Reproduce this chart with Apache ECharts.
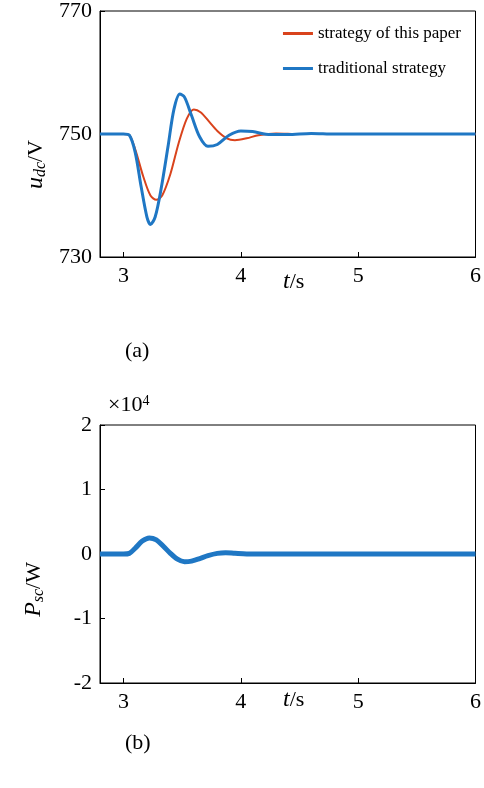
<!DOCTYPE html>
<html><head><meta charset="utf-8">
<script src="https://cdn.jsdelivr.net/npm/echarts@6/dist/echarts.min.js"></script>
<style>body{margin:0;background:#fff}#main{width:484px;height:788px}</style>
</head><body><div id="main"></div>
<script>
var chart = echarts.init(document.getElementById('main'));

var xTicks = [3, 4, 5, 6];
var tradT = [2.8, 3.0, 3.05, 3.1, 3.15, 3.2, 3.23, 3.27, 3.32, 3.38, 3.43, 3.48, 3.52, 3.58, 3.65, 3.72, 3.8, 3.9, 4.0, 4.1, 4.25, 4.4, 4.6, 4.8, 5.0, 6.0];
var tradU = [750, 750, 749.8, 747, 741.5, 736.5, 735.3, 736.5, 741, 748, 754, 756.5, 756, 753, 749.5, 748, 748.3, 749.8, 750.5, 750.4, 749.9, 749.9, 750.1, 750, 750, 750];
var paperT = [2.8, 3.0, 3.05, 3.1, 3.17, 3.23, 3.28, 3.33, 3.4, 3.47, 3.54, 3.6, 3.66, 3.73, 3.8, 3.88, 3.95, 4.05, 4.15, 4.3, 4.5, 5.0, 6.0];
var paperU = [750, 750, 749.8, 747.5, 743, 740, 739.3, 740, 743.5, 748.5, 752.5, 754, 753.5, 752, 750.5, 749.3, 749, 749.3, 749.8, 750.1, 750, 750, 750];
var pscT = [2.8, 3.0, 3.05, 3.1, 3.16, 3.22, 3.28, 3.34, 3.4, 3.46, 3.52, 3.58, 3.65, 3.72, 3.8, 3.87, 3.95, 4.05, 4.2, 6.0];
var pscP = [0, 0, 100, 900, 2000, 2500, 2200, 1200, 100, -800, -1200, -1100, -700, -250, 100, 200, 100, 0, 0, 0];

function pairs(x, y) { return x.map(function (v, i) { return [v, y[i]]; }); }

var txt = {color: '#000', fontFamily: 'Liberation Serif', fontSize: 22};
function xAxis(idx) {
  return {gridIndex: idx, type: 'value', min: 2.8, max: 6, splitLine: {show: false},
    axisLine: {onZero: false, lineStyle: {color: '#000'}},
    axisTick: {inside: true, customValues: xTicks, lineStyle: {color: '#000'}},
    axisLabel: Object.assign({customValues: xTicks}, txt)};
}
var yBase = {type: 'value', splitLine: {show: false}, axisLine: {show: true, lineStyle: {color: '#000'}},
  axisTick: {inside: true, lineStyle: {color: '#000'}}, axisLabel: txt};
var serif = 'Liberation Serif';
var it = {fontStyle: 'italic', fontFamily: serif, fontSize: 24};
var sub = {fontStyle: 'italic', fontFamily: serif, fontSize: 16, padding: [10, 0, 0, 0]};

chart.setOption({
  animation: false,
  grid: [
    {left: 100, right: 8, top: 8, bottom: 531, show: true, borderColor: '#000'},
    {left: 100, right: 8, top: 425, bottom: 105, show: true, borderColor: '#000'}
  ],
  xAxis: [xAxis(0), xAxis(1)],
  yAxis: [
    Object.assign({gridIndex: 0, min: 730, max: 770, interval: 20}, yBase),
    Object.assign({gridIndex: 1, min: -20000, max: 20000, interval: 10000}, yBase,
      {axisLabel: Object.assign({formatter: function (v) { return String(v / 10000); }}, txt)})
  ],
  legend: {right: 18, top: 20, orient: 'vertical', itemGap: 18, itemWidth: 30, icon: 'rect', itemHeight: 3,
    textStyle: {fontFamily: serif, fontSize: 17, color: '#000'}},
  series: [
    {name: 'strategy of this paper', type: 'line', smooth: 0.3, symbol: 'none', data: pairs(paperT, paperU),
      lineStyle: {color: '#d9431c', width: 2}, itemStyle: {color: '#d9431c'}, z: 3},
    {name: 'traditional strategy', type: 'line', smooth: 0.3, symbol: 'none', data: pairs(tradT, tradU),
      lineStyle: {color: '#1f77c4', width: 3}, itemStyle: {color: '#1f77c4'}},
    {type: 'line', xAxisIndex: 1, yAxisIndex: 1, smooth: 0.3, symbol: 'none', data: pairs(pscT, pscP),
      lineStyle: {color: '#1f77c4', width: 5}}
  ],
  graphic: [
    {type: 'text', left: 283, top: 270, style: {text: '{i|t}/s', rich: {i: it}, fontFamily: serif, fontSize: 22}},
    {type: 'text', left: 283, top: 688, style: {text: '{i|t}/s', rich: {i: it}, fontFamily: serif, fontSize: 22}},
    {type: 'text', left: 24, top: 140, rotation: Math.PI / 2, style: {text: '{i|u}{s|dc}/V', rich: {i: it, s: sub}, fontFamily: serif, fontSize: 22}},
    {type: 'text', left: 22, top: 562, rotation: Math.PI / 2, style: {text: '{i|P}{s|sc}/W', rich: {i: it, s: sub}, fontFamily: serif, fontSize: 22}},
    {type: 'text', left: 108, top: 394, style: {text: '×10{s|4}', rich: {s: {fontSize: 14, verticalAlign: 'top', fontFamily: serif}}, fontFamily: serif, fontSize: 22}},
    {type: 'text', left: 125, top: 340, style: {text: '(a)', fontFamily: serif, fontSize: 22}},
    {type: 'text', left: 125, top: 732, style: {text: '(b)', fontFamily: serif, fontSize: 22}}
  ]
});
</script></body></html>
